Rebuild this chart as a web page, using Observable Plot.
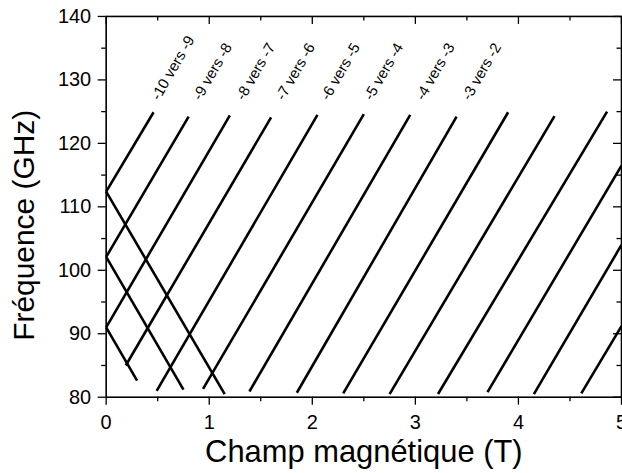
<!DOCTYPE html>
<html>
<head>
<meta charset="utf-8">
<script src="https://cdn.jsdelivr.net/npm/d3@7"></script>
<script src="https://cdn.jsdelivr.net/npm/@observablehq/plot@0.6"></script>
<style>
html, body { margin: 0; padding: 0; overflow: hidden; background: #fff; }
#chart svg { display: block; }
</style>
</head>
<body>
<div id="chart"></div>
<script>
// Ascending transitions (m -> m+1), segment endpoints
const ascStartB = [0, 0, 0, 0.19, 0.49, 0.94, 1.39, 1.85, 2.30, 2.75, 3.22, 3.70, 4.15, 4.61];
const ascStartF = [112.4, 102.1, 91.0, 85.0, 81.0, 81.3, 80.9, 80.7, 80.6, 80.5, 80.5, 80.8, 80.5, 80.6];
const ascEndB   = [0.46, 0.80, 1.20, 1.60, 2.05, 2.50, 2.95, 3.40, 3.90, 4.35, 4.86, 5.0, 5.0, 5.0];
const ascEndF   = [124.9, 124.2, 124.4, 124.1, 124.5, 124.6, 124.5, 124.2, 124.9, 124.3, 125.0, 116.5, 104.0, 91.2];

// Descending transitions
const descStartB = [0, 0, 0];
const descStartF = [112.4, 102.1, 91.0];
const descEndB   = [1.15, 0.75, 0.30];
const descEndF   = [80.5, 81.2, 82.6];

// Annotations
const labelText = ["-10 vers -9", "-9 vers -8", "-8 vers -7", "-7 vers -6", "-6 vers -5", "-5 vers -4", "-4 vers -3", "-3 vers -2"];
const labelB = [0.474, 0.878, 1.297, 1.684, 2.12, 2.54, 3.04, 3.49];
const labelF = [127, 127, 127, 127, 127, 127, 127, 127];

// Ticks
const xMajor = [0, 1, 2, 3, 4, 5];
const xMinor = [0.5, 1.5, 2.5, 3.5, 4.5];
const yMajor = [80, 90, 100, 110, 120, 130, 140];
const yMinor = [85, 95, 105, 115, 125, 135];

const xTitle = "Champ magnétique (T)";
const yTitle = "Fréquence (GHz)";

// Layout
const W = 624, H = 473, mL = 106, mR = 1, mT = 16, mB = 75;
const fW = W - mL - mR, fH = H - mT - mB;
const majorLen = 8, minorLen = 4.5;

const asc = d3.range(ascStartB.length);
const desc = d3.range(descStartB.length);
const labs = d3.range(labelText.length);

const chart = Plot.plot({
  width: W,
  height: H,
  marginLeft: mL,
  marginRight: mR,
  marginTop: mT,
  marginBottom: mB,
  style: { fontFamily: "'Liberation Sans', Arial, sans-serif", color: "black", background: "white" },
  x: { domain: [0, 5] },
  y: { domain: [80, 140] },
  marks: [
    Plot.link(asc, {
      x1: i => ascStartB[i], y1: i => ascStartF[i],
      x2: i => ascEndB[i], y2: i => ascEndF[i],
      stroke: "black", strokeWidth: 2.6
    }),
    Plot.link(desc, {
      x1: i => descStartB[i], y1: i => descStartF[i],
      x2: i => descEndB[i], y2: i => descEndF[i],
      stroke: "black", strokeWidth: 2.6
    }),
    Plot.text(labs, {
      x: i => labelB[i], y: i => labelF[i], text: i => labelText[i],
      rotate: -60, textAnchor: "start", fontSize: 15, fill: "black"
    }),
    // bottom axis
    Plot.axisX({ ticks: xMajor, tickSize: majorLen, tickPadding: 10, fontSize: 20, label: null, tickFormat: d => String(d), strokeWidth: 1.3 }),
    Plot.tickX(xMinor, { x: d => d, insetTop: fH, insetBottom: -minorLen, strokeWidth: 1.3 }),
    // left axis
    Plot.axisY({ ticks: yMajor, tickSize: majorLen, tickPadding: 7, fontSize: 20, label: null, tickFormat: d => String(d), strokeWidth: 1.3 }),
    Plot.tickY(yMinor, { y: d => d, insetRight: fW, insetLeft: -minorLen, strokeWidth: 1.3 }),
    // top inward ticks
    Plot.tickX(xMajor, { x: d => d, insetBottom: fH - majorLen, strokeWidth: 1.3 }),
    Plot.tickX(xMinor, { x: d => d, insetBottom: fH - minorLen, strokeWidth: 1.3 }),
    // right inward ticks
    Plot.tickY(yMajor, { y: d => d, insetLeft: fW - majorLen, strokeWidth: 1.3 }),
    Plot.tickY(yMinor, { y: d => d, insetLeft: fW - minorLen, strokeWidth: 1.3 }),
    Plot.frame({ stroke: "black", strokeWidth: 1.6 }),
    // axis titles
    Plot.text([xTitle], { frameAnchor: "bottom", text: d => d, textAnchor: "middle", lineAnchor: "middle", dy: 55, fontSize: 31, fill: "black" }),
    Plot.text([yTitle], { frameAnchor: "left", text: d => d, textAnchor: "middle", lineAnchor: "middle", rotate: -90, dx: -82, dy: 18.5, fontSize: 30, fill: "black" })
  ]
});
document.getElementById("chart").appendChild(chart);
</script>
</body>
</html>
